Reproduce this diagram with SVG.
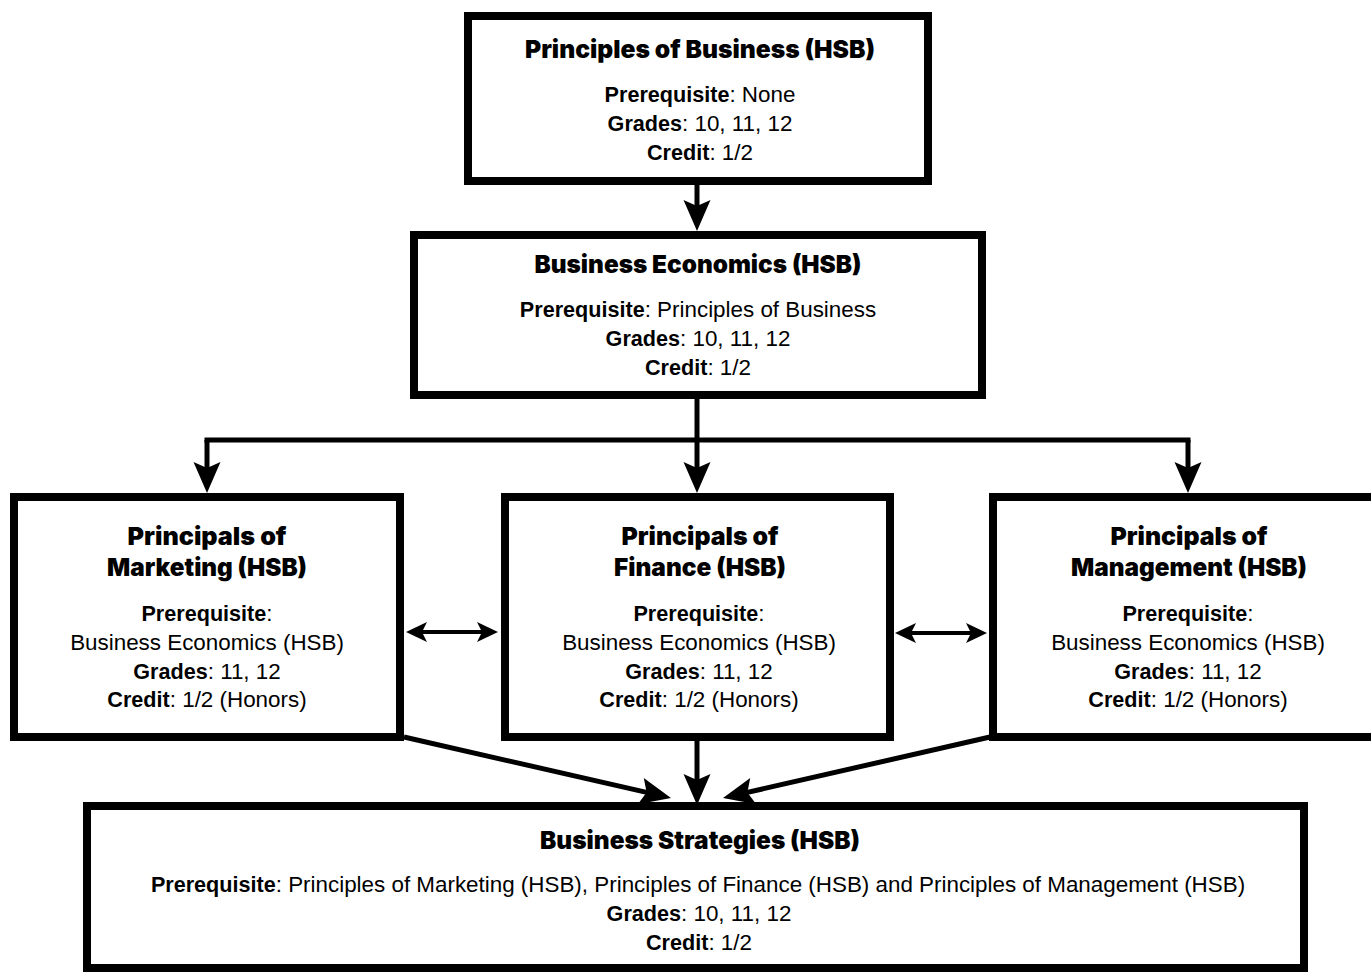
<svg xmlns="http://www.w3.org/2000/svg" width="1371" height="973" viewBox="0 0 1371 973">
<style>
.box{fill:#fff;stroke:#000;stroke-width:8}
.t{font-family:"Inter","Roboto",sans-serif;font-weight:900;font-size:24.5px;text-anchor:middle;fill:#000}
.b{font-family:"Liberation Sans",Arial,sans-serif;font-size:22.4px;text-anchor:middle;fill:#000}
.k{font-weight:bold;font-size:21.6px}
.c{fill:none;stroke:#000;stroke-width:5}
.d{fill:none;stroke:#000;stroke-width:4}
</style>
<defs>
<marker id="ah" markerUnits="userSpaceOnUse" viewBox="-2 -16 36 32" markerWidth="36" markerHeight="32" refX="15" refY="0" orient="auto" overflow="visible">
<path d="M0,-13.5 L31,0 L0,13.5 L6,0 Z" fill="#000"/>
</marker>
<marker id="ad" markerUnits="userSpaceOnUse" viewBox="-2 -12 26 24" markerWidth="26" markerHeight="24" refX="11" refY="0" orient="auto-start-reverse" overflow="visible">
<path d="M0,-10 L21,0 L0,10 L5,0 Z" fill="#000"/>
</marker>
</defs>
<rect width="1371" height="973" fill="#fff"/>
<g id="connectors">
<path class="c" d="M697,185 V215" marker-end="url(#ah)"/>
<path class="c" d="M697,399 V477" marker-end="url(#ah)"/>
<path class="c" d="M207,440 H1188" stroke-linecap="square"/>
<path class="c" d="M207,440 V477" marker-end="url(#ah)"/>
<path class="c" d="M1188,440 V477" marker-end="url(#ah)"/>
<path class="d" d="M416,632 H488" marker-start="url(#ad)" marker-end="url(#ad)"/>
<path class="d" d="M905,633 H977" marker-start="url(#ad)" marker-end="url(#ad)"/>
<path class="c" d="M697,741 V789" marker-end="url(#ah)"/>
<path class="c" d="M404,737 L655.4,794.4" marker-end="url(#ah)"/>
<path class="c" d="M990,737 L738.6,794.4" marker-end="url(#ah)"/>
</g>
<g id="principles-business">
<rect class="box" x="468" y="16" width="460" height="165"/>
<text class="t" x="700" y="58" textLength="350" lengthAdjust="spacingAndGlyphs">Principles of Business (HSB)</text>
<text class="b" x="700" y="102"><tspan class="k">Prerequisite</tspan>: None</text>
<text class="b" x="700" y="131"><tspan class="k">Grades</tspan>: 10, 11, 12</text>
<text class="b" x="700" y="160"><tspan class="k">Credit</tspan>: 1/2</text>
</g>
<g id="business-economics">
<rect class="box" x="414" y="235" width="568" height="160"/>
<text class="t" x="698" y="273" textLength="327" lengthAdjust="spacingAndGlyphs">Business Economics (HSB)</text>
<text class="b" x="698" y="317"><tspan class="k">Prerequisite</tspan>: Principles of Business</text>
<text class="b" x="698" y="346"><tspan class="k">Grades</tspan>: 10, 11, 12</text>
<text class="b" x="698" y="375"><tspan class="k">Credit</tspan>: 1/2</text>
</g>
<g id="marketing">
<rect class="box" x="14" y="497" width="386" height="240"/>
<text class="t" x="207" y="545" textLength="159" lengthAdjust="spacingAndGlyphs">Principals of</text>
<text class="t" x="207" y="576" textLength="200" lengthAdjust="spacingAndGlyphs">Marketing (HSB)</text>
<text class="b" x="207" y="621"><tspan class="k">Prerequisite</tspan>:</text>
<text class="b" x="207" y="650">Business Economics (HSB)</text>
<text class="b" x="207" y="679"><tspan class="k">Grades</tspan>: 11, 12</text>
<text class="b" x="207" y="707"><tspan class="k">Credit</tspan>: 1/2 (Honors)</text>
</g>
<g id="finance">
<rect class="box" x="505" y="497" width="385" height="240"/>
<text class="t" x="700" y="545" textLength="157" lengthAdjust="spacingAndGlyphs">Principals of</text>
<text class="t" x="700" y="576" textLength="172" lengthAdjust="spacingAndGlyphs">Finance (HSB)</text>
<text class="b" x="699" y="621"><tspan class="k">Prerequisite</tspan>:</text>
<text class="b" x="699" y="650">Business Economics (HSB)</text>
<text class="b" x="699" y="679"><tspan class="k">Grades</tspan>: 11, 12</text>
<text class="b" x="699" y="707"><tspan class="k">Credit</tspan>: 1/2 (Honors)</text>
</g>
<g id="management">
<rect class="box" x="993" y="497" width="390" height="240"/>
<text class="t" x="1189" y="545" textLength="157" lengthAdjust="spacingAndGlyphs">Principals of</text>
<text class="t" x="1189" y="576" textLength="236" lengthAdjust="spacingAndGlyphs">Management (HSB)</text>
<text class="b" x="1188" y="621"><tspan class="k">Prerequisite</tspan>:</text>
<text class="b" x="1188" y="650">Business Economics (HSB)</text>
<text class="b" x="1188" y="679"><tspan class="k">Grades</tspan>: 11, 12</text>
<text class="b" x="1188" y="707"><tspan class="k">Credit</tspan>: 1/2 (Honors)</text>
</g>
<g id="business-strategies">
<rect class="box" x="87" y="806" width="1217" height="162"/>
<text class="t" x="700" y="849" textLength="320" lengthAdjust="spacingAndGlyphs">Business Strategies (HSB)</text>
<text class="b" x="698" y="892"><tspan class="k">Prerequisite</tspan>: Principles of Marketing (HSB), Principles of Finance (HSB) and Principles of Management (HSB)</text>
<text class="b" x="699" y="921"><tspan class="k">Grades</tspan>: 10, 11, 12</text>
<text class="b" x="699" y="950"><tspan class="k">Credit</tspan>: 1/2</text>
</g>
</svg>
